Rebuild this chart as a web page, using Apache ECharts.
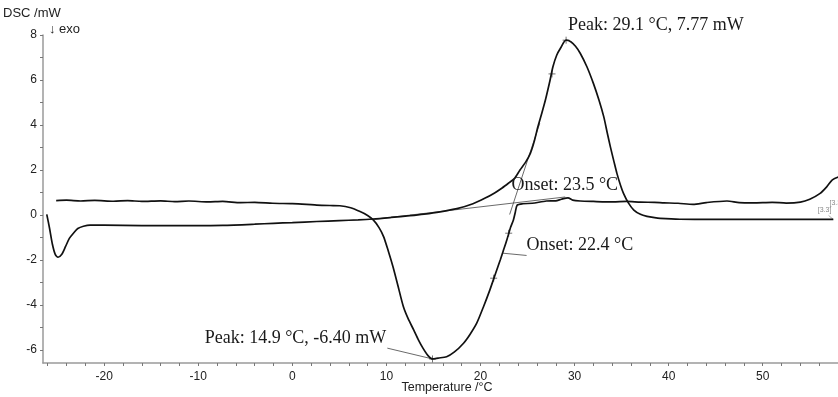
<!DOCTYPE html>
<html>
<head>
<meta charset="utf-8">
<script src="https://cdn.jsdelivr.net/npm/echarts@6/dist/echarts.min.js"></script>
<style>
  html, body { margin: 0; padding: 0; background: #ffffff; }
  #chart { width: 838px; height: 397px; }
</style>
</head>
<body>
<div id="chart"></div>
<script>
// Heating run (endothermic melting peak, positive = endo)
const heatingTemp = [-26.1, -25.8, -25.5, -25.2, -24.9, -24.5, -24.1, -23.7, -23.2, -22.8, -22.2, -21.5, -20, -16, -12, -7.4, -4, -2, 0, 2.6, 5, 7, 8.6, 10.5, 12.5, 14, 15.7, 17.5, 19.2, 20.5, 21.5, 22.3, 23.0, 23.6, 24.2, 24.8, 25.3, 25.7, 26.1, 26.5, 26.9, 27.4, 27.7, 28.1, 28.5, 29.1, 29.6, 30.1, 30.6, 31.3, 32.0, 32.6, 33.1, 33.5, 33.8, 34.2, 34.5, 34.9, 35.2, 35.7, 36.3, 37.0, 37.7, 38.5, 39.1, 41.2, 45, 50, 55, 57.5];
const heatingDsc  = [0.03, -0.6, -1.3, -1.75, -1.88, -1.75, -1.4, -1.04, -0.78, -0.6, -0.5, -0.45, -0.45, -0.47, -0.47, -0.46, -0.41, -0.37, -0.34, -0.29, -0.25, -0.22, -0.18, -0.11, -0.03, 0.04, 0.14, 0.28, 0.5, 0.75, 0.98, 1.2, 1.42, 1.62, 2.0, 2.35, 2.74, 3.25, 3.92, 4.5, 5.11, 6.0, 6.59, 7.1, 7.41, 7.77, 7.7, 7.5, 7.19, 6.6, 5.85, 5.1, 4.37, 3.6, 3.04, 2.35, 1.85, 1.3, 0.96, 0.55, 0.22, 0.03, -0.06, -0.12, -0.15, -0.19, -0.2, -0.2, -0.2, -0.2];

// Cooling run (exothermic crystallisation peak)
const coolingTemp = [-25.1, -24, -22.5, -21, -19, -17.5, -16, -14, -12.5, -11, -9, -7.4, -5.5, -4, -2.1, 0, 1.5, 2.6, 4, 5.05, 6.2, 7.2, 8.0, 8.6, 9.2, 9.7, 10.2, 10.7, 11.2, 11.8, 12.3, 12.9, 13.4, 13.9, 14.4, 14.9, 15.5, 16.4, 17.2, 18.2, 18.9, 19.6, 20.3, 21.0, 21.6, 22.1, 22.4, 22.8, 23.2, 23.5, 23.7, 23.9, 24.5, 25.5, 27.0, 28.0, 28.6, 29.3, 29.8, 30.6, 32, 34.1, 35.5, 37, 38.5, 39.5, 41, 42.6, 44, 46.2, 47.5, 49, 51, 52.5, 54, 55, 56.1, 56.8, 57.4, 58.1];
const coolingDsc  = [0.64, 0.66, 0.62, 0.65, 0.61, 0.64, 0.6, 0.63, 0.59, 0.62, 0.58, 0.6, 0.55, 0.56, 0.52, 0.5, 0.47, 0.44, 0.42, 0.41, 0.32, 0.15, -0.02, -0.22, -0.55, -0.96, -1.6, -2.3, -3.1, -4.07, -4.6, -5.11, -5.55, -5.93, -6.24, -6.40, -6.36, -6.3, -6.1, -5.7, -5.3, -4.81, -4.1, -3.33, -2.6, -2.0, -1.62, -1.11, -0.55, -0.22, 0.12, 0.44, 0.5, 0.52, 0.62, 0.63, 0.7, 0.76, 0.66, 0.62, 0.6, 0.58, 0.6, 0.57, 0.56, 0.54, 0.52, 0.47, 0.55, 0.62, 0.55, 0.54, 0.56, 0.53, 0.57, 0.7, 0.96, 1.25, 1.56, 1.7];

// Onset construction for the heating peak
const onsetBaseline = [[8.5, -0.2], [29.0, 0.8]];
const onsetTangent  = [[23.1, 0.02], [26.3, 4.08]];
// Leader lines for the evaluation labels
const onsetLeader = [[22.4, -1.7], [24.9, -1.8]];
const peakLeader  = [[10.1, -5.92], [14.9, -6.40]];
const endLeader   = [[57.0, -0.02], [57.5, -0.2]];

// Small evaluation markers on the curves
const heatMarks = [[29.1, 7.77], [27.6, 6.27]];
const coolMarks = [[14.9, -6.40], [23.0, -0.81], [21.4, -2.81]];

// Axis ticks and labels
const xTicks  = [-26, -24, -22, -20, -18, -16, -14, -12, -10, -8, -6, -4, -2, 0, 2, 4, 6, 8, 10, 12, 14, 16, 18, 20, 22, 24, 26, 28, 30, 32, 34, 36, 38, 40, 42, 44, 46, 48, 50, 52, 54, 56, 58];
const xLabels = [-20, -10, 0, 10, 20, 30, 40, 50];
const yTicks  = [-6, -5, -4, -3, -2, -1, 0, 1, 2, 3, 4, 5, 6, 7, 8];
const yLabels = [-6, -4, -2, 0, 2, 4, 6, 8];

// Text annotations: [text, anchor T, anchor mW, dx, dy, align]
const notes = [
  ['Peak: 29.1 °C, 7.77 mW', 29.1, 7.77, 2, -15, 'left'],
  ['Onset: 23.5 °C', 23.5, 0.53, -2, -18, 'left'],
  ['Onset: 22.4 °C', 24.9, -1.8, 0, -10, 'left'],
  ['Peak: 14.9 °C, -6.40 mW', 10.1, -5.92, -1, -10, 'right']
];
const smallNotes = [
  ['[3.3]', 57.0, -0.02, -4, -5],
  ['[3.3]', 57.5, 0.35, 3, -4]
];

const zip = (a, b) => a.map((v, i) => [v, b[i]]);
const serif = '"Liberation Serif", "Times New Roman", serif';
const sans = '"Liberation Sans", Arial, sans-serif';

const thin = (data) => ({
  type: 'line', data, showSymbol: false, silent: true, z: 3,
  lineStyle: { color: '#444', width: 0.8 }
});

const crossPath = 'path://M0,-4L0,4M-4,0L4,0';
const markSeries = (data) => ({
  type: 'scatter', data, symbol: crossPath, symbolSize: 7, silent: true, z: 4,
  itemStyle: { color: 'none', borderColor: '#222', borderWidth: 0.8 }
});

const chart = echarts.init(document.getElementById('chart'), null, { renderer: 'canvas' });
chart.setOption({
  animation: false,
  backgroundColor: '#ffffff',
  grid: { left: 43, right: 0, top: 35, bottom: 34, containLabel: false, outerBoundsMode: 'none' },
  xAxis: {
    type: 'value', min: -26.5, max: 58,
    axisLine: { onZero: false, lineStyle: { color: '#9a9a9a', width: 1.5 } },
    axisTick: { show: true, length: 3, customValues: xTicks, lineStyle: { color: '#777', width: 1 } },
    axisLabel: { customValues: xLabels, fontFamily: sans, fontSize: 12, color: '#222', margin: 8 },
    splitLine: { show: false }
  },
  yAxis: {
    type: 'value', min: -6.58, max: 8,
    axisLine: { show: true, onZero: false, lineStyle: { color: '#9a9a9a', width: 1.5 } },
    axisTick: { show: true, length: 3, customValues: yTicks, lineStyle: { color: '#777', width: 1 } },
    axisLabel: { customValues: yLabels, fontFamily: sans, fontSize: 12, color: '#222', margin: 6 },
    splitLine: { show: false }
  },
  series: [
    { type: 'line', data: zip(heatingTemp, heatingDsc), showSymbol: false, smooth: 0.25, z: 5,
      lineStyle: { color: '#111', width: 1.7 } },
    { type: 'line', data: zip(coolingTemp, coolingDsc), showSymbol: false, smooth: 0.25, z: 5,
      lineStyle: { color: '#111', width: 1.7 } },
    thin(onsetBaseline),
    thin(onsetTangent),
    thin(onsetLeader),
    thin(peakLeader),
    Object.assign(thin(endLeader), { lineStyle: { color: '#888', width: 0.7 } }),
    markSeries(heatMarks),
    markSeries(coolMarks)
  ]
});

// Axis titles and evaluation labels
const graphics = [
  { type: 'text', x: 3, y: 13, style: { text: 'DSC /mW', font: '13px ' + sans, fill: '#222', align: 'left', verticalAlign: 'middle' } },
  { type: 'text', x: 49, y: 29, style: { text: '↓ exo', font: '13px ' + sans, fill: '#222', align: 'left', verticalAlign: 'middle' } },
  { type: 'text', x: 447, y: 388, style: { text: 'Temperature /°C', font: '12.5px ' + sans, fill: '#222', align: 'center', verticalAlign: 'middle' } }
];
notes.forEach(([text, t, v, dx, dy, align]) => {
  const p = chart.convertToPixel({ gridIndex: 0 }, [t, v]);
  graphics.push({ type: 'text', x: p[0] + dx, y: p[1] + dy, z: 10,
    style: { text, font: '18px ' + serif, fill: '#1a1a1a', align, verticalAlign: 'middle' } });
});
smallNotes.forEach(([text, t, v, dx, dy]) => {
  const p = chart.convertToPixel({ gridIndex: 0 }, [t, v]);
  graphics.push({ type: 'text', x: p[0] + dx, y: p[1] + dy, z: 10,
    style: { text, font: '7px ' + sans, fill: '#888', align: 'center', verticalAlign: 'middle' } });
});
chart.setOption({ graphic: graphics });
</script>
</body>
</html>
